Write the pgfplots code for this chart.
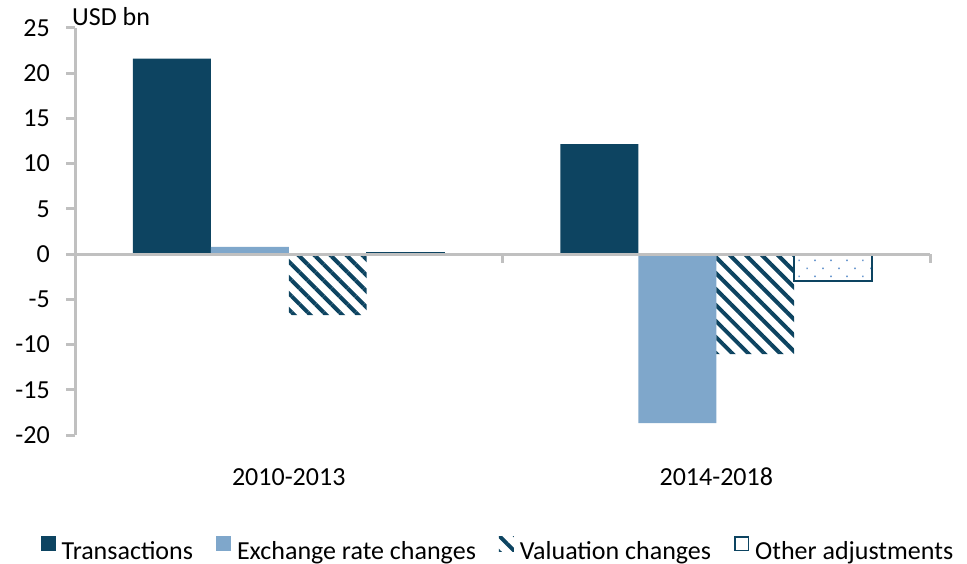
\documentclass[border=0pt]{standalone}
\usepackage{fontspec}
\setmainfont{Carlito}
\usepackage{pgfplots}
\pgfplotsset{compat=1.18}
\usetikzlibrary{patterns.meta}
\definecolor{navy}{HTML}{0D4461}
\definecolor{lblue}{HTML}{7FA7CB}
\definecolor{dotblue}{HTML}{6F9BD0}
\definecolor{axgray}{HTML}{C0C0C0}
\newcommand{\fs}{\fontsize{26bp}{31bp}\selectfont}
\begin{document}
\begin{tikzpicture}[x=1bp,y=1bp]
\useasboundingbox (0,0) rectangle (967,-564);
\begin{axis}[
  at={(75bp,-435bp)}, anchor=south west,
  scale only axis, width=855bp, height=407.25bp,
  xmin=-0.5, xmax=1.5, ymin=-20, ymax=25,
  separate axis lines,
  axis x line*=bottom, axis y line*=left,
  x axis line style={draw=none},
  y axis line style={axgray, line width=3bp},
  xtick={0,1}, xticklabels={2010-2013,2014-2018},
  xtick style={draw=none},
  ytick={-20,-15,...,25},
  yticklabels={-20,-15,-10,-5,0,5,10,15,20,25},
  ytick style={axgray, line width=3bp},
  tick align=outside, major tick length=9bp,
  ticklabel style={font=\fs, text=black},
  yticklabel style={anchor=east, inner sep=0pt, xshift=-16bp},
  xticklabel style={anchor=base, inner sep=0pt, yshift=-41bp},
  clip=false,
  legend style={at={(0.497,-0.279)}, anchor=center, draw=none, fill=none,
    font=\fs, legend columns=4, column sep=0pt,
    /tikz/every even column/.append style={column sep=17bp},
    nodes={inner xsep=6bp, inner ysep=0pt}},
  legend cell align=left,
]
\addplot[ybar, bar width=0.1822, bar shift=-0.2733, fill=navy, draw=none,
  legend image code/.code={\fill[navy] (0bp,-0.5bp) rectangle (15bp,14.5bp);}]
  coordinates {(0,21.6) (1,12.15)};
\addlegendentry{Transactions}
\addplot[ybar, bar width=0.1822, bar shift=-0.0911, fill=lblue, draw=none,
  legend image code/.code={\fill[lblue] (0bp,-0.5bp) rectangle (15bp,14.5bp);}]
  coordinates {(0,0.8) (1,-18.7)};
\addlegendentry{Exchange rate changes}
\addplot[ybar, bar width=0.1822, bar shift=0.0911, draw=none,
  pattern={Lines[angle=-45,distance=11.3bp,line width=4bp]}, pattern color=navy,
  legend image code/.code={\fill[pattern={Lines[angle=-45,distance=11.3bp,line width=4bp]}, pattern color=navy] (0bp,-0.5bp) rectangle (15bp,14.5bp);}]
  coordinates {(0,-6.74) (1,-11.05)};
\addlegendentry{Valuation changes}
\addplot[ybar, bar width=0.1822, bar shift=0.2733, draw=navy, line width=1.5bp,
  pattern={Dots[angle=45,distance=11.3bp,radius=1.1bp]}, pattern color=dotblue,
  legend image code/.code={\draw[navy, line width=1.5bp, fill=white] (0.75bp,0.25bp) rectangle (14.25bp,13.75bp);}]
  coordinates {(0,0.15) (1,-2.98)};
\addlegendentry{Other adjustments}
\draw[axgray, line width=3bp] (axis cs:-0.5,0) -- (axis cs:1.5,0);
\draw[axgray, line width=3bp] (axis cs:0.5,0) -- ([yshift=-9bp]axis cs:0.5,0);
\draw[axgray, line width=3bp] (axis cs:1.5,0) -- ([yshift=-9bp]axis cs:1.5,0);
\end{axis}
\node[anchor=base west, inner sep=0pt, font=\fs] at (72,-26) {USD bn};
\end{tikzpicture}
\end{document}
